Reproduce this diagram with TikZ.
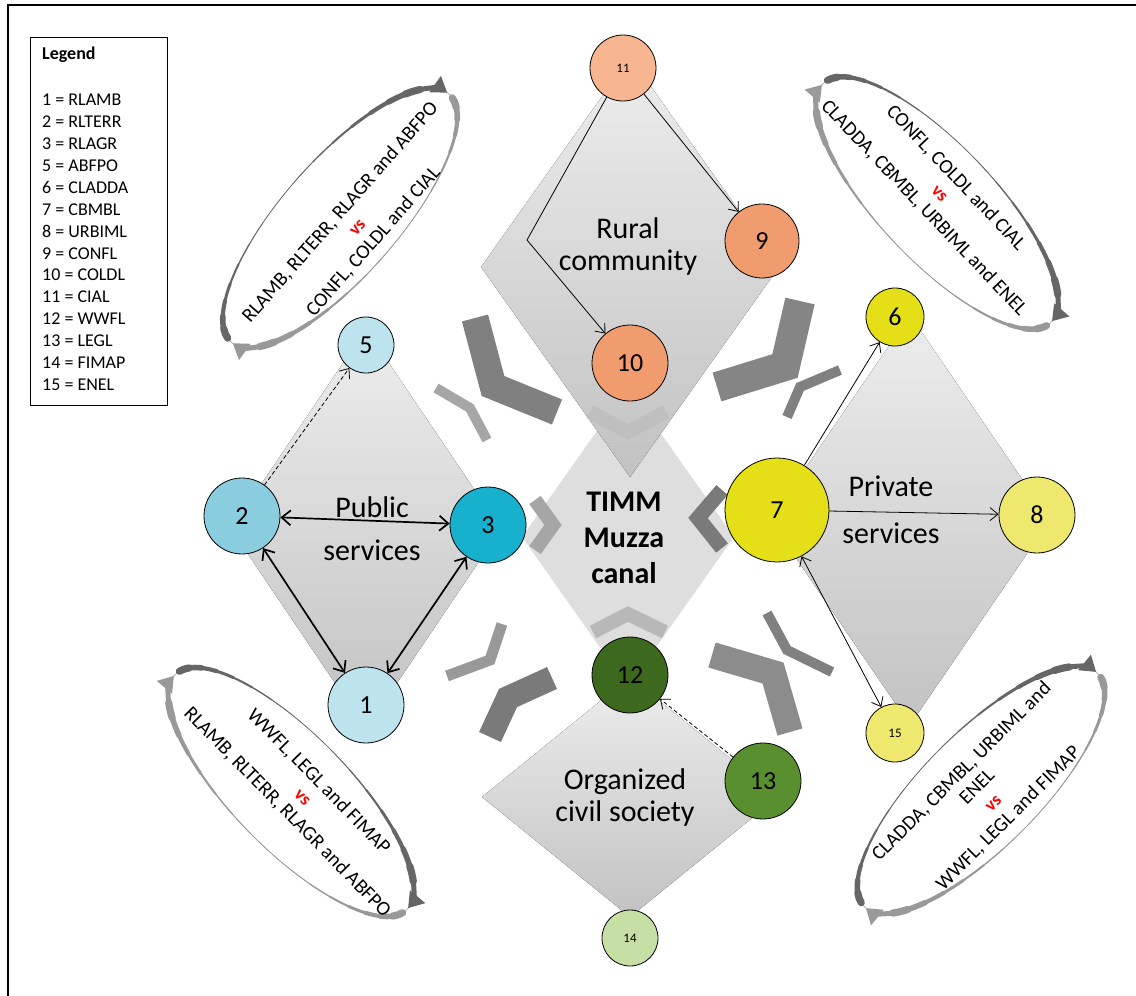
\documentclass[tikz,border=0pt]{standalone}
\usepackage{fontspec}
\setmainfont{Carlito}
\usetikzlibrary{arrows.meta}

\definecolor{blueLight}{HTML}{BDE3EE}
\definecolor{blueMid}{HTML}{8ACDDE}
\definecolor{blueDeep}{HTML}{17B1CE}
\definecolor{orangeLight}{HTML}{F7B690}
\definecolor{orangeMid}{HTML}{F19C6E}
\definecolor{yellowDeep}{HTML}{E4DF17}
\definecolor{yellowLight}{HTML}{EEE86E}
\definecolor{greenDeep}{HTML}{3D691F}
\definecolor{greenMid}{HTML}{5A8F2F}
\definecolor{greenLight}{HTML}{C5DFA5}

\newcommand{\vsmark}{{\color{red}\bfseries\fontsize{18}{18}\selectfont vs}}

\begin{document}
\begin{tikzpicture}[x=1pt,y=-1pt,
  actor/.style={circle,draw=black,line width=0.8pt,inner sep=0pt,font=\fontsize{26}{26}\selectfont},
  tinyactor/.style={actor,font=\fontsize{13}{13}\selectfont},
  group/.style={align=center,font=\fontsize{30}{32}\selectfont},
  cyctext/.style={align=center,font=\fontsize{20}{22}\selectfont},
  link/.style={-{Straight Barb[length=8pt,width=13pt]},line width=0.8pt},
  dashlink/.style={link,dash pattern=on 4pt off 2.5pt},
  duallink/.style={link,{Straight Barb[length=8pt,width=13pt]}-{Straight Barb[length=8pt,width=13pt]}},
  biglink/.style={{Straight Barb[length=9pt,width=15pt]}-{Straight Barb[length=9pt,width=15pt]},line width=1.7pt},
  chevron/.style={line join=miter,line cap=butt},
  rhomb/.style={top color=black!7,bottom color=black!24,draw=none}]
 \useasboundingbox (0,0) rectangle (1136,996);
 \def\ra{165}
 \def\rb{58}

 % frame
 \draw[line width=2pt] (8,996) -- (8,5) -- (1136,5);

 % legend
 \node[draw=black,line width=0.8pt,minimum width=137,minimum height=368,anchor=north west,inner sep=0pt] (legend) at (30,37) {};
 \node[anchor=west,inner sep=2pt,font=\bfseries\fontsize{18}{18}\selectfont] (legtitle) at (40,55) {Legend};
 \foreach \entry [count=\i] in {1 = RLAMB, 2 = RLTERR, 3 = RLAGR, 5 = ABFPO, 6 = CLADDA, 7 = CBMBL, 8 = URBIML, 9 = CONFL, 10 = COLDL, 11 = CIAL, 12 = WWFL, 13 = LEGL, 14 = FIMAP, 15 = ENEL}
  \node[anchor=west,inner sep=2pt,font=\fontsize{18}{18}\selectfont] (leg\i) at (40,{100+(\i-1)*21.9}) {\entry};

 % diamonds, the centre one first
 \fill[black!13] (628,387) -- (734,537) -- (628,687) -- (522,537) -- cycle;
 \foreach \cx/\cy/\hw/\hh in {630/267/149/210, 366/529/135/200, 910/520/140/205, 630/797/148/120}
  \fill[rhomb] (\cx,\cy-\hh) -- (\cx+\hw,\cy) -- (\cx,\cy+\hh) -- (\cx-\hw,\cy) -- cycle;

 % chevrons round the canal
 \foreach \ax/\ay/\bx/\by/\ex/\ey/\wd/\tone in {475/318/493/386/557/412/27/50, 436/388/470/408/487/440/10/35, 717/387/785/366/800/301/30/48, 787/417/800/387/840/370/10/50, 552/678/508/698/490/737/24/52, 447/676/490/660/502/624/11/40, 712/655/773/673/790/732/26/45, 767/613/787/650/832/672/10/50, 590/412/628/432/666/412/14/25, 535/500/553/525/535/550/14/35, 722/490/698/518/722/548/15/52, 593/632/628/614/665/632/14/28}
  \draw[chevron,line width=\wd pt,black!\tone] (\ax,\ay) -- (\bx,\by) -- (\ex,\ey);

 % conflict cycles (thin ellipse, two tapered arrows)
 \foreach \cx/\cy/\ang in {340/218/48.7, 937/203/-46.5, 291/792/-45.5, 981/790/45}{
 \begin{scope}[shift={(\cx,\cy)},rotate=\ang]
  \draw[black!40,line width=0.6pt] (0,0) ellipse[x radius=\ra,y radius=\rb];
  \foreach \from/\tone in {185/60, 5/40}{
   \foreach \k in {0,...,15}{
    \pgfmathsetmacro{\phs}{\from+\k*9.375}
    \pgfmathsetmacro{\phe}{\phs+9.375}
    \pgfmathsetmacro{\lw}{0.6+7.5*(abs(2*(\k+0.5)/16-1))^2}
    \draw[black!\tone,line width=\lw pt,line cap=round] ({\ra*cos(\phs)},{\rb*sin(\phs)}) arc[start angle=\phs,end angle=\phe,x radius=\ra,y radius=\rb];
   }
   % arrow head end
   \pgfmathsetmacro{\phs}{\from+150}
   \pgfmathsetmacro{\phe}{\from+173}
   \draw[black!\tone,line width=5pt,-{Triangle[length=15pt,width=19pt]}] ({\ra*cos(\phs)},{\rb*sin(\phs)}) arc[start angle=\phs,end angle=\phe,x radius=\ra,y radius=\rb];
  }
 \end{scope}
 }
 \node[cyctext,rotate=48.7] (cycpublic) at (357,227) {RLAMB, RLTERR, RLAGR and ABFPO\\\vsmark\\CONFL, COLDL and CIAL};
 \node[cyctext,rotate=-46.5] (cycrural) at (940,193) {CONFL, COLDL and CIAL\\\vsmark\\CLADDA, CBMBL, URBIML and ENEL};
 \node[cyctext,rotate=-45.5] (cyccivil) at (303,797) {WWFL, LEGL and FIMAP\\\vsmark\\RLAMB, RLTERR, RLAGR and ABFPO};
 \node[cyctext,rotate=45] (cycprivate) at (985,795) {CLADDA, CBMBL, URBIML and\\ENEL\\\vsmark\\WWFL, LEGL and FIMAP};

 % group labels
 \node[group] (rural) at (628,246) {Rural\\community};
 \node[group,font=\fontsize{30}{43}\selectfont] (public) at (372,529) {Public\\services};
 \node[group,font=\fontsize{30}{47}\selectfont] (private) at (891,510) {Private\\services};
 \node[group,font=\bfseries\fontsize{30}{36}\selectfont] (timm) at (624,538) {TIMM\\Muzza\\canal};
 \node[group] (civil) at (625,797) {Organized\\civil society};

 % actors
 \node[actor,minimum size=76,fill=blueLight] (n1) at (366,705) {1};
 \node[actor,minimum size=76,fill=blueMid] (n2) at (242,516) {2};
 \node[actor,minimum size=76,fill=blueDeep] (n3) at (488,525) {3};
 \node[actor,minimum size=56,fill=blueLight] (n5) at (366,345) {5};
 \node[actor,minimum size=58,fill=yellowDeep] (n6) at (895,317) {6};
 \node[actor,minimum size=104,fill=yellowDeep] (n7) at (777,510) {7};
 \node[actor,minimum size=76,fill=yellowLight] (n8) at (1037,515) {8};
 \node[actor,minimum size=74,fill=orangeMid] (n9) at (762,241) {9};
 \node[actor,minimum size=76,fill=orangeMid] (n10) at (630,363) {10};
 \node[tinyactor,minimum size=66,fill=orangeLight] (n11) at (623,68) {11};
 \node[actor,minimum size=76,fill=greenDeep] (n12) at (630,675) {12};
 \node[actor,minimum size=76,fill=greenMid] (n13) at (763,781) {13};
 \node[tinyactor,minimum size=56,fill=greenLight] (n14) at (630,938) {14};
 \node[tinyactor,minimum size=58,fill=yellowLight] (n15) at (895,733) {15};
 \coordinate (bend11) at (527,240);

 % links
 \draw[link] (n11) -- (n9);
 \draw[link] (n11) -- (bend11) -- (n10);
 \draw[dashlink] (n2) -- (n5);
 \draw[biglink] (n2) -- (n3);
 \draw[biglink] (n2) -- (n1);
 \draw[biglink] (n1) -- (n3);
 \draw[link] (n7) -- (n6);
 \draw[link] (n7) -- (n8);
 \draw[duallink] (n7) -- (n15);
 \draw[dashlink] (n13) -- (n12);
\end{tikzpicture}
\end{document}
